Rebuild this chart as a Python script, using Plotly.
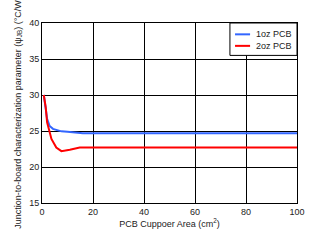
import plotly.graph_objects as go

area_1oz = [0.7, 1.0, 1.5, 2.0, 3.0, 4.3, 6.0, 7.6, 10, 16, 30, 50, 70, 100]
psi_1oz = [30.0, 29.0, 28.0, 26.7, 25.7, 25.3, 25.1, 24.95, 24.9, 24.7, 24.7, 24.7, 24.7, 24.7]
area_2oz = [0.7, 1.0, 1.45, 2.0, 3.0, 3.7, 5.6, 7.6, 10.9, 14.8, 30, 50, 70, 100]
psi_2oz = [30.0, 29.5, 28.3, 26.2, 25.0, 23.9, 22.7, 22.2, 22.4, 22.7, 22.7, 22.7, 22.7, 22.7]
series_names = ["1oz PCB", "2oz PCB"]
series_colors = ["#3366ff", "#ff0000"]

FONT = "Liberation Sans, Arial"

fig = go.Figure()
fig.add_trace(go.Scatter(x=area_1oz, y=psi_1oz, mode="lines", name=series_names[0],
                         line=dict(color=series_colors[0], width=2), showlegend=False))
fig.add_trace(go.Scatter(x=area_2oz, y=psi_2oz, mode="lines", name=series_names[1],
                         line=dict(color=series_colors[1], width=2), showlegend=False))

axis_common = dict(showgrid=True, gridcolor="black", gridwidth=1, showline=True,
                   linecolor="black", linewidth=1, mirror=True, zeroline=False,
                   ticks="", tickfont=dict(family=FONT, size=9, color="#222"))
fig.update_xaxes(range=[0, 100], dtick=20, tick0=0,
                 title=dict(text="PCB Cuppoer Area (cm<sup>2</sup>)", standoff=4,
                            font=dict(family=FONT, size=9, color="#222")),
                 **axis_common)
fig.update_yaxes(range=[15, 40], dtick=5, tick0=15,
                 title=dict(text="Junction-to-board characterization parameter (ψ<sub>JB</sub>) (°C/W)",
                            standoff=6,
                            font=dict(family=FONT, size=9, color="#222")),
                 **axis_common)

# legend box (drawn in paper coordinates)
fig.add_shape(type="rect", xref="paper", yref="paper", x0=0.737, x1=1.0, y0=0.82, y1=1.0,
              fillcolor="white", line=dict(color="black", width=1), layer="above")
legend_y = [0.937, 0.873]
for name, color, ly in zip(series_names, series_colors, legend_y):
    fig.add_shape(type="line", xref="paper", yref="paper", x0=0.757, x1=0.816, y0=ly, y1=ly,
                  line=dict(color=color, width=2), layer="above")
    fig.add_annotation(xref="paper", yref="paper", x=0.833, y=ly, text=name, showarrow=False,
                       xanchor="left", yanchor="middle",
                       font=dict(family=FONT, size=9, color="#222"))

fig.update_layout(
    width=319, height=243,
    margin=dict(l=42, r=22, t=23, b=40),
    plot_bgcolor="white", paper_bgcolor="white",
    showlegend=False,
)
fig.write_html("out.html")
